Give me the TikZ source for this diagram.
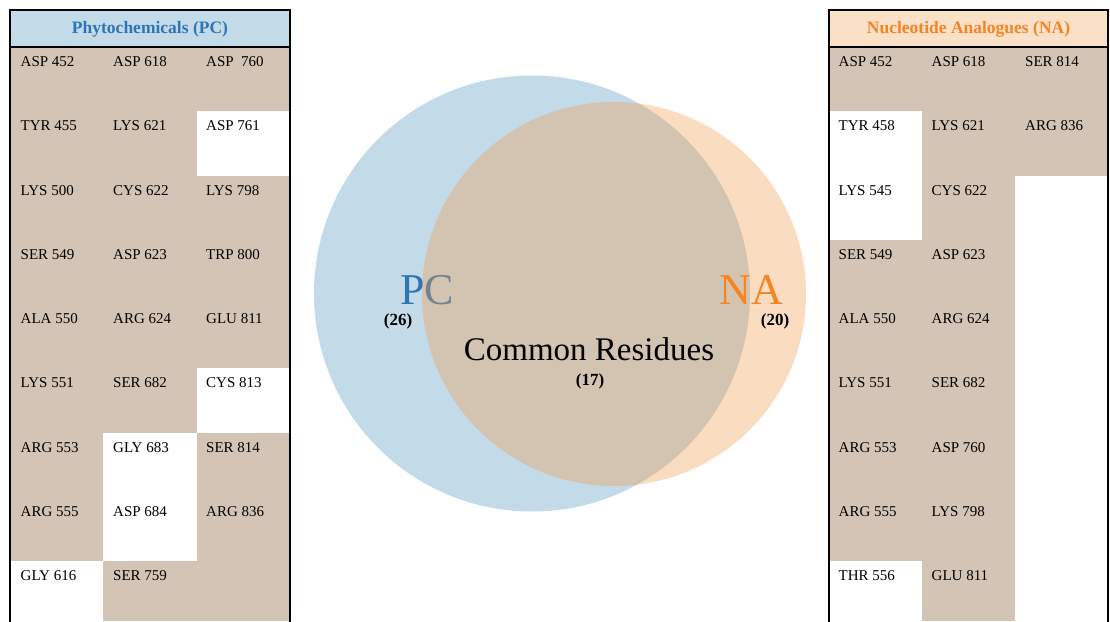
\documentclass[tikz,border=0pt]{standalone}
\usepackage{fontspec}
\setmainfont{Liberation Serif}
\usetikzlibrary{positioning}
\definecolor{residu}{RGB}{211,196,181}
\definecolor{pcfill}{RGB}{195,218,233}
\definecolor{pctext}{RGB}{46,117,182}
\definecolor{nafill}{RGB}{251,224,200}
\definecolor{natext}{RGB}{245,132,34}
\definecolor{naveil}{RGB}{241,155,75}

\tikzset{
  residue/.style={anchor=base west, inner sep=0pt, font=\fontsize{15}{18}\selectfont},
  entete/.style={inner sep=0pt, font=\bfseries\fontsize{17.5}{21}\selectfont},
  compte/.style={inner sep=0pt, font=\bfseries\fontsize{17}{20}\selectfont},
  cadre/.style={line width=1.2pt, black},
}

\begin{document}
\begin{tikzpicture}[x=1pt, y=1pt]
\useasboundingbox (0,0) rectangle (1110,621);
\clip (0,0) rectangle (1110,621);
\fill[white] (0,0) rectangle (1110,621);

% Tableau PC (gauche)
\fill[pcfill] (10,574) rectangle (290,611);
\fill[residu] (10,0) rectangle (290,574);
\foreach \r/\c in {2/3, 6/3, 7/2, 8/2, 9/1} {
    \fill[white] ({10+(\c-1)*93.33}, {574-(\r-1)*64.3}) rectangle ++(93.33,-64.3);
}
\node[entete, pctext] (pc-titre) at (150,591.5) {Phytochemicals (PC)};
\foreach \txt [count=\r] in {ASP 452, TYR 455, LYS 500, SER 549, ALA 550, LYS 551, ARG 553, ARG 555, GLY 616} {
    \node[residue] (pc-\r-1) at (20.5, {574-(\r-1)*64.3-19.5}) {\txt};
}
\foreach \txt [count=\r] in {ASP 618, LYS 621, CYS 622, ASP 623, ARG 624, SER 682, GLY 683, ASP 684, SER 759} {
    \node[residue] (pc-\r-2) at (113, {574-(\r-1)*64.3-19.5}) {\txt};
}
\foreach \txt [count=\r] in {ASP\ \ 760, ASP 761, LYS 798, TRP 800, GLU 811, CYS 813, SER 814, ARG 836} {
    \node[residue] (pc-\r-3) at (206, {574-(\r-1)*64.3-19.5}) {\txt};
}
\draw[cadre] (10,-2) -- (10,611) -- (290,611) -- (290,-2);
\draw[cadre] (10,574) -- (290,574);

% Tableau NA (droite)
\fill[nafill] (829,574) rectangle (1108,611);
\fill[residu] (829,0) rectangle (1108,574);
\foreach \r/\c in {2/1, 3/1, 9/1} {
    \fill[white] ({829+(\c-1)*93}, {574-(\r-1)*64.3}) rectangle ++(93,-64.3);
}
\fill[white] (1015,{574-2*64.3}) rectangle (1108,0);
\node[entete, natext] (na-titre) at (968.5,591.5) {Nucleotide Analogues (NA)};
\foreach \txt [count=\r] in {ASP 452, TYR 458, LYS 545, SER 549, ALA 550, LYS 551, ARG 553, ARG 555, THR 556} {
    \node[residue] (na-\r-1) at (838.5, {574-(\r-1)*64.3-19.5}) {\txt};
}
\foreach \txt [count=\r] in {ASP 618, LYS 621, CYS 622, ASP 623, ARG 624, SER 682, ASP 760, LYS 798, GLU 811} {
    \node[residue] (na-\r-2) at (931.5, {574-(\r-1)*64.3-19.5}) {\txt};
}
\foreach \txt [count=\r] in {SER 814, ARG 836} {
    \node[residue] (na-\r-3) at (1025, {574-(\r-1)*64.3-19.5}) {\txt};
}
\draw[cadre] (829,-2) -- (829,611) -- (1108,611) -- (1108,-2);
\draw[cadre] (829,574) -- (1108,574);

% Diagramme de Venn
\fill[pcfill] (532,327.5) circle (218);
\node[pctext, inner sep=0pt, font=\fontsize{44}{50}\selectfont] (pc-lab) at (427,331) {PC};
\fill[naveil, fill opacity=0.35] (614,327) circle (192);
\node[natext, inner sep=0pt, font=\fontsize{44}{50}\selectfont] (na-lab) at (751,331) {NA};
\node[compte] (pc-n) at (398,299.5) {(26)};
\node[compte] (na-n) at (775,299.5) {(20)};
\node[inner sep=0pt, font=\fontsize{33}{38}\selectfont] (commun) at (589,272) {Common Residues};
\node[compte] (commun-n) at (590,239.5) {(17)};

\end{tikzpicture}
\end{document}
